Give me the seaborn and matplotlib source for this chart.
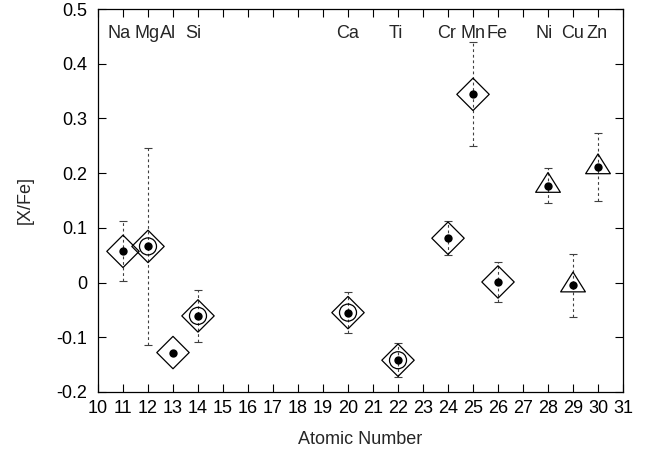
import matplotlib
matplotlib.use("Agg")
import numpy as np
import pandas as pd
import matplotlib.pyplot as plt
from matplotlib.path import Path
from matplotlib.ticker import FuncFormatter, MultipleLocator
import seaborn as sns

# ---- Abundance data ----
elements = ["Na", "Mg", "Al", "Si", "Ca", "Ti", "Cr", "Mn", "Fe", "Ni", "Cu", "Zn"]
atomic_number = [11, 12, 13, 14, 20, 22, 24, 25, 26, 28, 29, 30]
x_fe = [0.057, 0.066, -0.128, -0.061, -0.055, -0.142, 0.081, 0.344, 0.001, 0.177, -0.005, 0.211]
x_fe_err = [0.055, 0.180, 0.0, 0.048, 0.037, 0.031, 0.031, 0.095, 0.036, 0.032, 0.058, 0.062]
shape = ["diamond"] * 9 + ["triangle"] * 3
circled = [False, True, False, True, True, True, False, False, False, False, False, False]

# where the element names sit along the top
label_x = [10.83, 11.96, 12.8, 13.81, 20.0, 21.9, 23.95, 25.0, 25.97, 27.85, 29.0, 29.94]
label_y = 0.456

df = pd.DataFrame({
    "element": elements,
    "Z": atomic_number,
    "x_fe": x_fe,
    "err": x_fe_err,
    "shape": shape,
    "circled": circled,
})

sns.set_style("ticks")
plt.rcParams["font.family"] = ["Liberation Sans", "DejaVu Sans"]
plt.rcParams["axes.unicode_minus"] = False
FS = 13

fig, ax = plt.subplots(figsize=(6.59, 4.5), dpi=100)
fig.subplots_adjust(left=0.1487, right=0.9454, bottom=0.129, top=0.98)

# ---- error bars (dotted, gnuplot style) ----
with_err = df[df["err"] > 0]
eb = ax.errorbar(with_err["Z"], with_err["x_fe"], yerr=with_err["err"], fmt="none",
                 ecolor="0.25", elinewidth=0.8, capsize=2.8, capthick=0.8, zorder=1)
eb[2][0].set_linestyle((0, (2.5, 2.5)))

# ---- markers ----
tri = Path([(-1, -0.533), (1, -0.533), (0, 1.067), (-1, -0.533)],
           [Path.MOVETO, Path.LINETO, Path.LINETO, Path.CLOSEPOLY])

sns.scatterplot(data=df[df["shape"] == "diamond"], x="Z", y="x_fe", marker="D", s=272,
                facecolor="none", edgecolor="black", linewidth=0.9, ax=ax, zorder=2)
sns.scatterplot(data=df[df["shape"] == "triangle"], x="Z", y="x_fe", marker=tri, s=361,
                facecolor="none", edgecolor="black", linewidth=0.9, ax=ax, zorder=2)
sns.scatterplot(data=df[df["circled"]], x="Z", y="x_fe", marker="o", s=150,
                facecolor="none", edgecolor="black", linewidth=0.9, ax=ax, zorder=2)
sns.scatterplot(data=df, x="Z", y="x_fe", marker="o", s=36,
                color="black", edgecolor="black", linewidth=0, ax=ax, zorder=3)

for el, lx in zip(elements, label_x):
    ax.text(lx, label_y, el, ha="center", va="center", fontsize=FS)

# ---- axes ----
ax.set_xlim(10, 31)
ax.set_ylim(-0.2, 0.5)
ax.xaxis.set_major_locator(MultipleLocator(1))
ax.yaxis.set_major_locator(MultipleLocator(0.1))
ax.yaxis.set_major_formatter(FuncFormatter(lambda v, _: f"{round(v, 2):g}"))
ax.tick_params(direction="in", top=True, right=True, length=5.5, width=0.8,
               labelsize=FS, colors="black")
ax.tick_params(axis="y", pad=7.5)
ax.tick_params(axis="x", pad=6)
for sp in ax.spines.values():
    sp.set_linewidth(0.9)
    sp.set_color("black")

ax.set_xlabel("Atomic Number", fontsize=FS)
ax.set_ylabel("[X/Fe]", fontsize=FS)
ax.xaxis.set_label_coords(0.5, -0.102)
ax.yaxis.set_label_coords(-0.122, 0.5)

fig.savefig("out.png", dpi=100)
